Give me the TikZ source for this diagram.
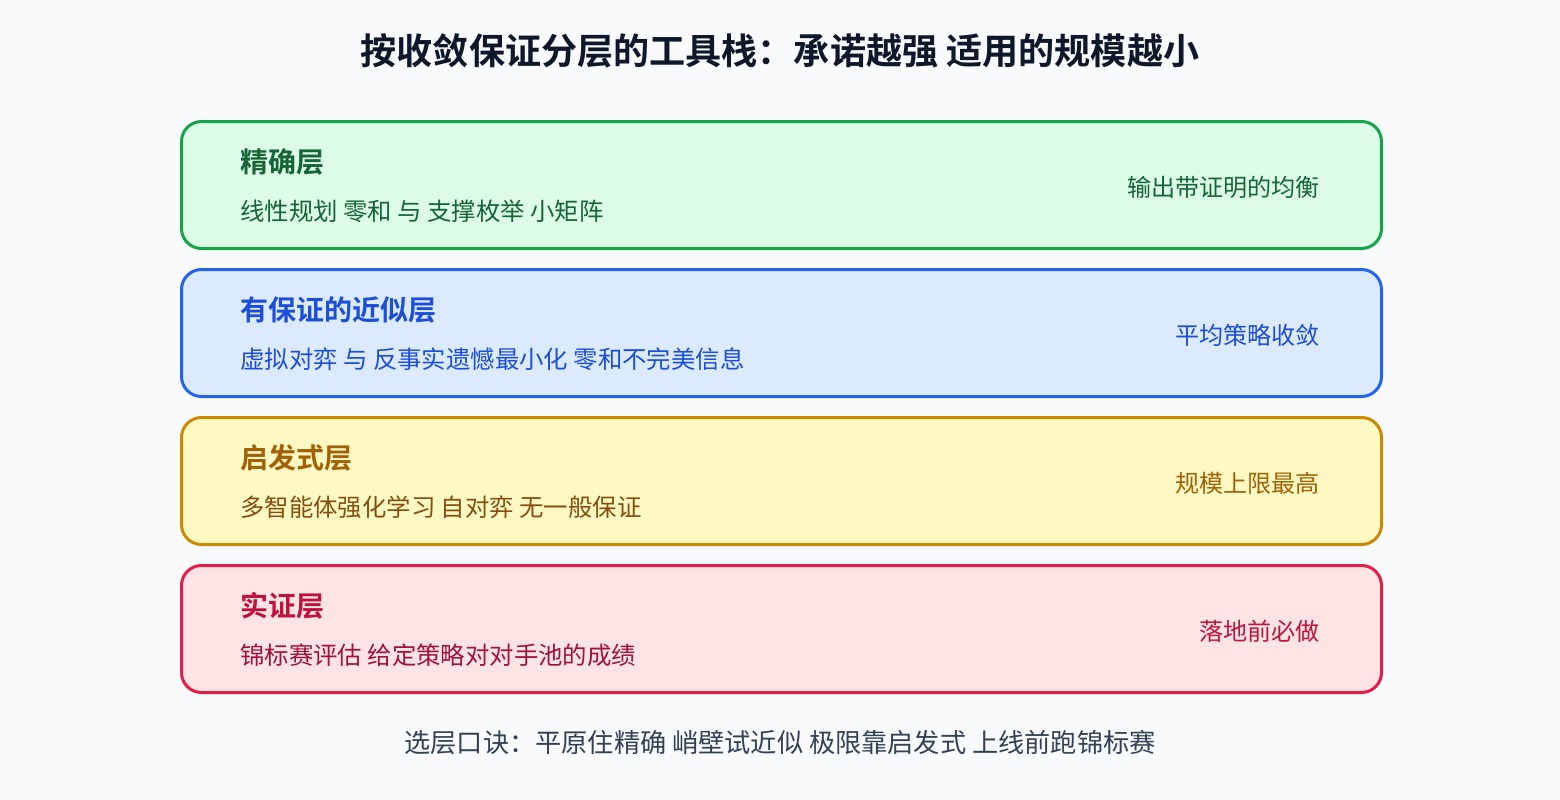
\documentclass[tikz,border=0pt]{standalone}
\usepackage{fontspec}
\setmainfont{Noto Sans CJK SC}[BoldFont={Noto Sans CJK SC Bold}]
\definecolor{bg}{HTML}{F8FAFC}
\definecolor{titlec}{HTML}{0F172A}
\definecolor{footc}{HTML}{334155}
\definecolor{gB}{HTML}{16A34A}\definecolor{gF}{HTML}{DCFCE7}\definecolor{gT}{HTML}{166534}
\definecolor{bB}{HTML}{2563EB}\definecolor{bF}{HTML}{DBEAFE}\definecolor{bT}{HTML}{1D4ED8}
\definecolor{yB}{HTML}{CA8A04}\definecolor{yF}{HTML}{FEF9C3}\definecolor{yT}{HTML}{A16207}\definecolor{yS}{HTML}{854D0E}
\definecolor{rB}{HTML}{E11D48}\definecolor{rF}{HTML}{FFE4E6}\definecolor{rT}{HTML}{BE123C}\definecolor{rS}{HTML}{9F1239}
\tikzset{
  layer/.style={draw, line width=3pt, rounded corners=20pt},
  head/.style={anchor=base west, inner sep=0pt, font=\fontsize{28}{32}\selectfont\bfseries},
  sub/.style={anchor=base west, inner sep=0pt, font=\fontsize{24.4}{28}\selectfont},
  note/.style={anchor=base east, inner sep=0pt, font=\fontsize{24.1}{28}\selectfont},
}
\begin{document}
\begin{tikzpicture}[x=1pt,y=-1pt]
\fill[bg] (0,0) rectangle (1560,800);
\useasboundingbox (0,0) rectangle (1560,800);
\node[anchor=base, inner sep=0pt, text=titlec, font=\fontsize{36.1}{40}\selectfont\bfseries] (title) at (780,65) {按收敛保证分层的工具栈：承诺越强 适用的规模越小};

\node[layer, draw=gB, fill=gF, minimum width=1200pt, minimum height=127pt, anchor=north west] (l1) at (180,120) {};
\node[head, text=gT] (h1) at (240,172) {精确层};
\node[sub, text=gT] (s1) at (240,220) {线性规划 零和 与 支撑枚举 小矩阵};
\node[note, text=gT] (n1) at (1320,196) {输出带证明的均衡};

\node[layer, draw=bB, fill=bF, minimum width=1200pt, minimum height=127pt, anchor=north west] (l2) at (180,268) {};
\node[head, text=bT] (h2) at (240,320) {有保证的近似层};
\node[sub, text=bT] (s2) at (240,368) {虚拟对弈 与 反事实遗憾最小化 零和不完美信息};
\node[note, text=bT] (n2) at (1320,344) {平均策略收敛};

\node[layer, draw=yB, fill=yF, minimum width=1200pt, minimum height=127pt, anchor=north west] (l3) at (180,416) {};
\node[head, text=yT] (h3) at (240,468) {启发式层};
\node[sub, text=yS] (s3) at (240,516) {多智能体强化学习 自对弈 无一般保证};
\node[note, text=yT] (n3) at (1320,492) {规模上限最高};

\node[layer, draw=rB, fill=rF, minimum width=1200pt, minimum height=127pt, anchor=north west] (l4) at (180,564) {};
\node[head, text=rT] (h4) at (240,616) {实证层};
\node[sub, text=rS] (s4) at (240,664) {锦标赛评估 给定策略对对手池的成绩};
\node[note, text=rT] (n4) at (1320,640) {落地前必做};

\node[anchor=base, inner sep=0pt, text=footc, font=\fontsize{26.2}{30}\selectfont] (foot) at (780,752) {选层口诀：平原住精确 峭壁试近似 极限靠启发式 上线前跑锦标赛};
\end{tikzpicture}
\end{document}
